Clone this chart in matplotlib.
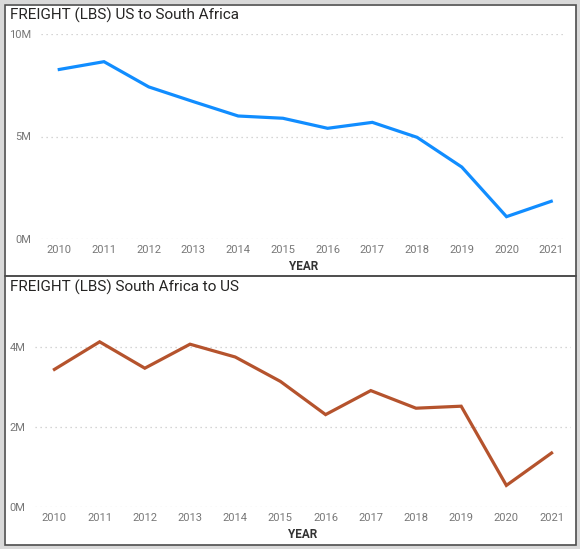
import matplotlib
matplotlib.use("Agg")
import matplotlib.pyplot as plt
from matplotlib.patches import Rectangle
from matplotlib.ticker import FuncFormatter

years = [2010, 2011, 2012, 2013, 2014, 2015, 2016, 2017, 2018, 2019, 2020, 2021]
us_to_sa = [8.27e6, 8.65e6, 7.42e6, 6.70e6, 6.00e6, 5.89e6, 5.40e6, 5.69e6, 4.96e6, 3.51e6, 1.09e6, 1.84e6]
sa_to_us = [3.44e6, 4.13e6, 3.47e6, 4.07e6, 3.75e6, 3.14e6, 2.31e6, 2.91e6, 2.47e6, 2.52e6, 0.54e6, 1.35e6]
titles = ["FREIGHT (LBS) US to South Africa", "FREIGHT (LBS) South Africa to US"]
x_label = "YEAR"

plt.rcParams['font.family'] = ['Roboto', 'DejaVu Sans']

W, H = 580, 549
fig = plt.figure(figsize=(W / 100, H / 100), dpi=100)
fig.patch.set_facecolor("#d9d9d9")

def px_rect(x0, y0, x1, y1, **kw):
    return Rectangle((x0 / W, 1 - y1 / H), (x1 - x0) / W, (y1 - y0) / H,
                     transform=fig.transFigure, **kw)

fig.patches.append(px_rect(4, 4, 576, 545, facecolor="white", edgecolor="none", zorder=-10))
fig.patches.append(px_rect(4.5, 4.5, 576, 276, facecolor="none", edgecolor="#4d4d4d", lw=1.2, zorder=5))
fig.patches.append(px_rect(4.5, 276, 576, 544.5, facecolor="none", edgecolor="#4d4d4d", lw=1.2, zorder=5))

fmt = FuncFormatter(lambda v, p: f"{int(round(v / 1e6))}M")

def make_axes(rect_px, xlim, ylim, yticks, values, color, title, title_y):
    x0, y0, x1, y1 = rect_px
    ax = fig.add_axes([x0 / W, 1 - y1 / H, (x1 - x0) / W, (y1 - y0) / H], zorder=1)
    ax.set_facecolor("none")
    ax.plot(years, values, color=color, lw=2.3, solid_joinstyle="miter", zorder=3, clip_on=False)
    ax.set_ylim(*ylim)
    ax.set_xlim(*xlim)
    ax.set_yticks(yticks)
    ax.yaxis.set_major_formatter(fmt)
    ax.set_xticks(years)
    ax.set_xticklabels([str(y) for y in years])
    for s in ax.spines.values():
        s.set_visible(False)
    ax.tick_params(axis="both", length=0, labelsize=8, labelcolor="#777777")
    ax.tick_params(axis="y", pad=7)
    ax.tick_params(axis="x", pad=4)
    ax.grid(axis="y", color="#c8c8c8", linestyle=(0, (1, 3)), lw=0.9)
    ax.set_xlabel(x_label, fontsize=8.5, fontweight="bold", color="#333333", labelpad=4)
    fig.text(10 / W, 1 - title_y / H, title, fontsize=11, color="#252423",
             ha="left", va="center")
    return ax

make_axes((40.7, 34, 566, 239), (years[0] - 0.415, years[-1] + 0.33), (0, 10e6),
          [0, 5e6, 10e6], us_to_sa, "#118DFF", titles[0], 15)
make_axes((35, 299, 571, 507), (years[0] - 0.43, years[-1] + 0.43), (0, 5.2e6),
          [0, 2e6, 4e6], sa_to_us, "#B5532D", titles[1], 287)

fig.savefig("out.png", dpi=100, facecolor=fig.get_facecolor())
